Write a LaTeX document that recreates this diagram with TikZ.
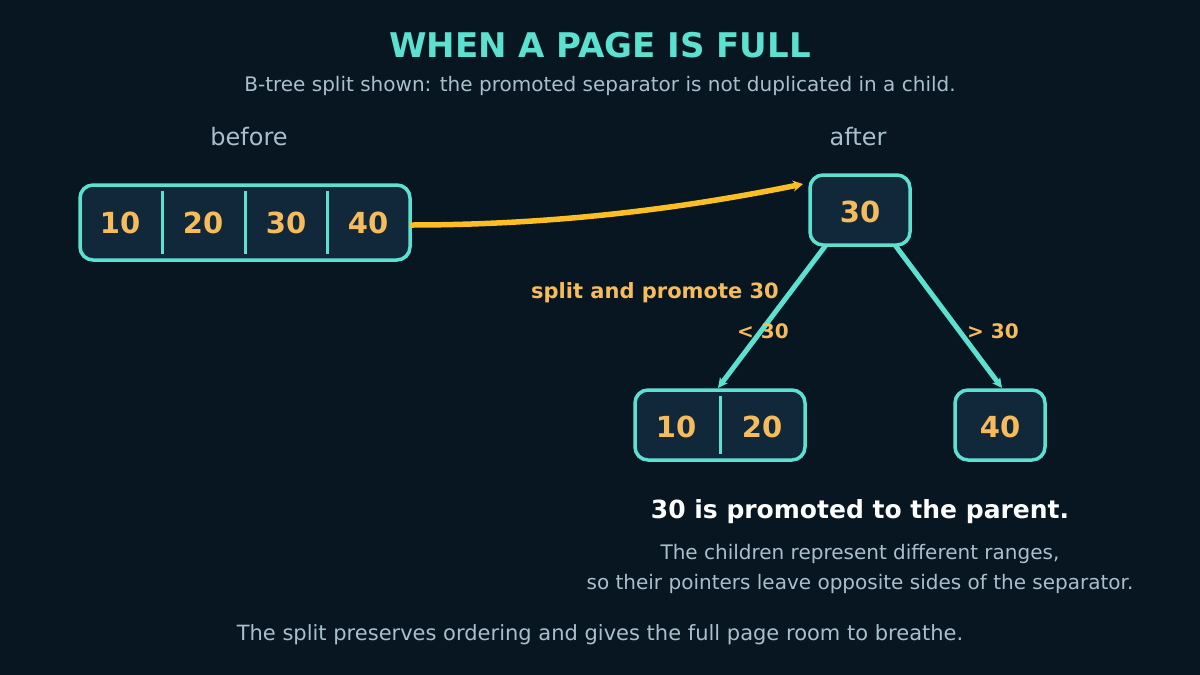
\documentclass[tikz,border=0pt]{standalone}
\usepackage{fontspec}
\setmainfont{DejaVu Sans}
\usetikzlibrary{arrows.meta}
\definecolor{bg}{HTML}{081622}
\definecolor{boxf}{HTML}{10283A}
\definecolor{teal}{HTML}{5CE1D0}
\definecolor{num}{HTML}{F6BC5C}
\definecolor{arr}{HTML}{FBBF24}
\definecolor{sub}{HTML}{A9BFCC}
\begin{document}
\begin{tikzpicture}[x=1pt,y=-1pt,
  box/.style={draw=teal,fill=boxf,line width=3.5pt,rounded corners=13pt},
  num/.style={text=num,font=\fontsize{29}{34}\selectfont\bfseries},
  div/.style={draw=teal,line width=3pt},
  edge/.style={draw=teal,line width=5pt,-{Stealth[length=10pt,width=10pt]}},
  lab/.style={text=num,font=\fontsize{21}{25}\selectfont\bfseries},
  subt/.style={text=sub,font=\fontsize{20}{24}\selectfont}]
\fill[bg] (0,0) rectangle (1200,675);
\useasboundingbox (0,0) rectangle (1200,675);
\node[text=teal,font=\fontsize{34}{40}\selectfont\bfseries] (title) at (600,45) {WHEN A PAGE IS FULL};
\node[subt] (st) at (600,86) {B-tree split shown: the promoted separator is not duplicated in a child.};
\node[text=sub,font=\fontsize{24}{28}\selectfont] (bl) at (249,137) {before};
\node[text=sub,font=\fontsize{24}{28}\selectfont] (al) at (858,137) {after};
% before
\draw[box] (80,185) rectangle (410,260);
\coordinate (bright) at (410,225);
\draw[div] (162,191) -- (162,254);
\draw[div] (245,191) -- (245,254);
\draw[div] (327,191) -- (327,254);
\node[num] (b1) at (120,223) {10};
\node[num] (b2) at (203,223) {20};
\node[num] (b3) at (286,223) {30};
\node[num] (b4) at (368,223) {40};
% parent
\draw[box] (810,175) rectangle (910,245);
\node[num] (p) at (860,212) {30};
\coordinate (ptip) at (803,184);
\coordinate (pl) at (826,245);
\coordinate (pr) at (895,245);
% children
\draw[box] (635,390) rectangle (805,460);
\draw[div] (720,396) -- (720,454);
\node[num] (c1) at (676,427) {10};
\node[num] (c2) at (762,427) {20};
\draw[box] (955,390) rectangle (1045,460);
\node[num] (c3) at (1000,427) {40};
\coordinate (lt) at (718,388);
\coordinate (rt) at (1002,388);
% arrows
\draw[arr,line width=5.5pt,-{Stealth[length=10pt,width=11pt]}] (bright) .. controls (560,225) and (690,207) .. (ptip);
\draw[edge] (pl) -- (lt);
\draw[edge] (pr) -- (rt);
\node[lab] (sp) at (655,293) {split and promote 30};
\node[text=num,font=\fontsize{20}{24}\selectfont\bfseries] (ll) at (763,331) {< 30};
\node[text=num,font=\fontsize{20}{24}\selectfont\bfseries] (rl) at (993,331) {> 30};
\node[text=white,font=\fontsize{25}{30}\selectfont\bfseries] (n1) at (860,512) {30 is promoted to the parent.};
\node[subt] (n2) at (860,554) {The children represent different ranges,};
\node[subt] (n3) at (860,584) {so their pointers leave opposite sides of the separator.};
\node[text=sub,font=\fontsize{21}{25}\selectfont] (bot) at (600,635) {The split preserves ordering and gives the full page room to breathe.};
\end{tikzpicture}
\end{document}
